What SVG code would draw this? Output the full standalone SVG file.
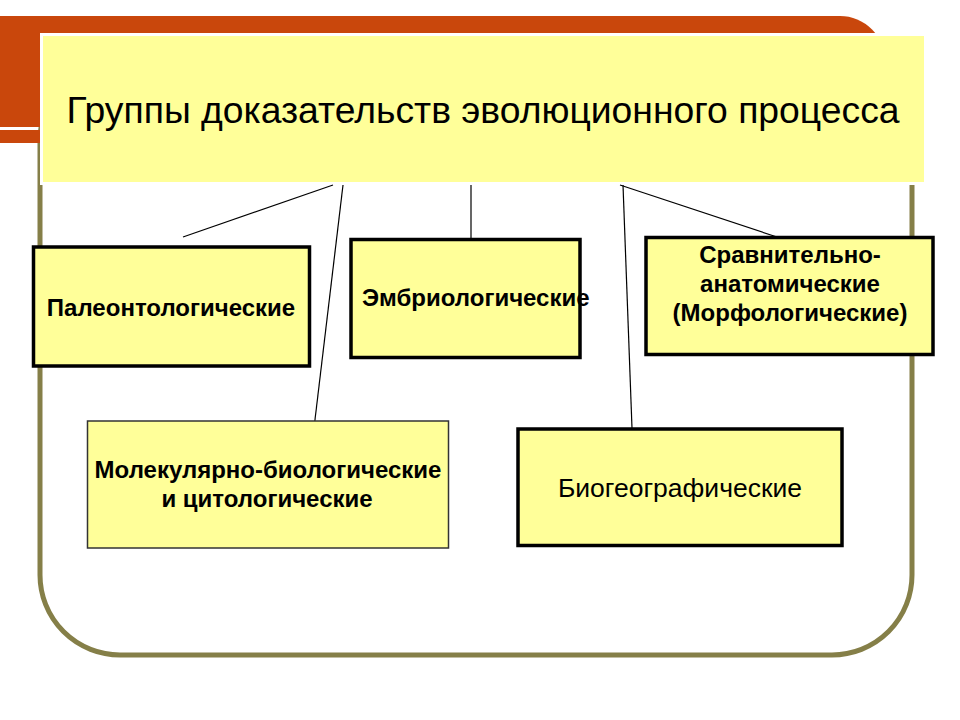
<svg xmlns="http://www.w3.org/2000/svg" width="960" height="720" viewBox="0 0 960 720">
<style>
  .box { fill: #FFFF99; stroke: #000; stroke-width: 3.5; }
  .thin { fill: #FFFF99; stroke: #333; stroke-width: 1.5; }
  .lbl { font-family: "Liberation Sans", Arial, sans-serif; font-size: 24px; font-weight: bold; fill: #000; text-anchor: middle; }
  .reg { font-weight: normal; font-size: 26.5px; }
  .conn line { stroke: #000; stroke-width: 1.2; }
</style>
<rect x="0" y="0" width="960" height="720" fill="#FFFFFF"/>
<g id="background">
  <rect x="40" y="60" width="872" height="595" rx="80" ry="80" fill="#FFFFFF" stroke="#857F48" stroke-width="5"/>
  <path d="M0,16 H840 A45,45 0 0 1 885,61 V127 H0 Z" fill="#C9470C"/>
  <rect x="0" y="130" width="45" height="13" fill="#C9470C"/>
</g>
<g id="title">
  <rect x="41.5" y="34.5" width="884" height="149" fill="#FFFF99" stroke="#FFFFFF" stroke-width="3"/>
  <text x="483" y="123" font-family="Liberation Sans, Arial, sans-serif" font-size="37.3" text-anchor="middle" fill="#000">Группы доказательств эволюционного процесса</text>
</g>
<g id="connectors" class="conn">
  <line x1="333" y1="185" x2="183" y2="237"/>
  <line x1="343" y1="185" x2="314" y2="428"/>
  <line x1="471" y1="185" x2="471" y2="238"/>
  <line x1="623" y1="185" x2="632" y2="428"/>
  <line x1="620" y1="185" x2="777" y2="237"/>
</g>
<g id="paleo">
  <rect class="box" x="33.5" y="247" width="276" height="119"/>
  <text class="lbl" x="171" y="316">Палеонтологические</text>
</g>
<g id="embryo">
  <rect class="box" x="351" y="239.5" width="229" height="118"/>
  <text class="lbl" x="362" y="306" style="text-anchor:start">Эмбриологические</text>
</g>
<g id="compar">
  <rect class="box" x="646" y="237.5" width="287" height="117"/>
  <text class="lbl" x="790" y="263">Сравнительно-</text>
  <text class="lbl" x="790" y="292">анатомические</text>
  <text class="lbl" x="790" y="321">(Морфологические)</text>
</g>
<g id="molec">
  <rect class="thin" x="87.5" y="421" width="361" height="127"/>
  <text class="lbl" x="268" y="478">Молекулярно-биологические</text>
  <text class="lbl" x="267" y="507">и цитологические</text>
</g>
<g id="biogeo">
  <rect class="box" x="518" y="429" width="324" height="116.5"/>
  <text class="lbl reg" x="680" y="497">Биогеографические</text>
</g>
</svg>
